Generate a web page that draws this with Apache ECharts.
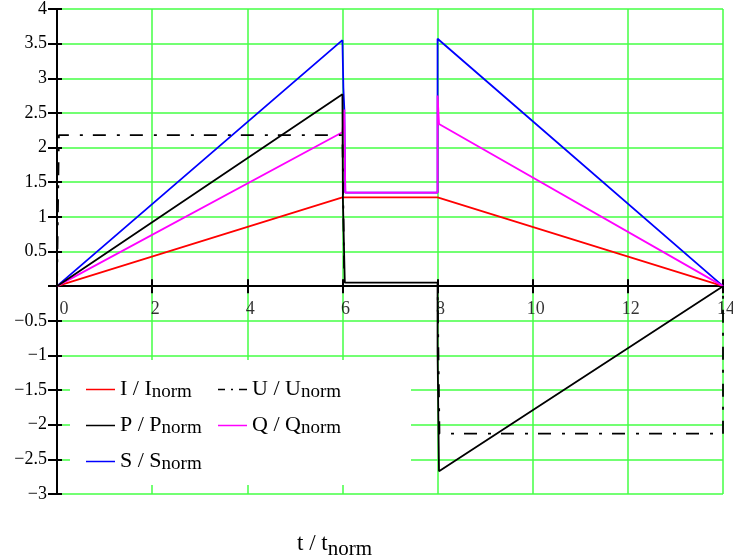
<!DOCTYPE html>
<html>
<head>
<meta charset="utf-8">
<script src="https://cdn.jsdelivr.net/npm/echarts@6/dist/echarts.min.js"></script>
<style>
  html, body { margin: 0; padding: 0; background: #ffffff; }
  #chart { width: 733px; height: 557px; }
</style>
</head>
<body>
<div id="chart"></div>
<script>
// Normalised time axis and value range
const xMin = 0, xMax = 14, xStep = 2;
const yMin = -3, yMax = 4, yStep = 0.5;
// Time tick labels, written along the zero line
const xTickValues = [0, 2, 4, 6, 8, 10, 12, 14];

// Current I / Inorm
const tI = [0, 6, 8, 14];
const vI = [0, 1.28, 1.28, 0];
// Voltage U / Unorm
const tU = [0, 0.04, 6, 6.04, 8, 8.04, 14, 14];
const vU = [0, 2.18, 2.18, 0, 0, -2.13, -2.13, 0];
// Active power P / Pnorm
const tP = [0, 6, 6.01, 6.05, 8, 8, 8.03, 14];
const vP = [0, 2.77, 1.25, 0.05, 0.05, -0.95, -2.67, 0];
// Reactive power Q / Qnorm
const tQ = [0, 6, 6.04, 6.06, 8, 8, 8.03, 14];
const vQ = [0, 2.22, 2.55, 1.35, 1.35, 2.75, 2.34, 0];
// Apparent power S / Snorm
const tS = [0, 6, 6.02, 6.04, 6.06, 8, 8, 14];
const vS = [0, 3.55, 2.86, 2.55, 1.35, 1.35, 3.57, 0];

const FONT = "'Liberation Serif', 'Times New Roman', serif";
const GRID_GREEN = '#44ff44';
const COLORS = { I: '#ff0000', U: '#000000', P: '#000000', Q: '#ff00ff', S: '#0000ff' };
const U_DASH = [13, 11, 3, 10];

// legend key shapes: a plain stroke, and a short dash-dot for U
const KEY_SOLID = 'path://M0 0h29v1.5h-29z';
const KEY_DASHDOT = 'path://M0 0h7v1.5h-7z M13 0h2v1.5h-2z M21 0h8v1.5h-8z';

const pairs = (ts, vs) => ts.map((t, i) => [t, vs[i]]);
const fmtNum = v => (v < 0 ? '\u2212' + Math.abs(v) : String(v));

function lineSeries(name, ts, vs, width, type) {
  const color = COLORS[name];
  return {
    name, type: 'line', data: pairs(ts, vs),
    symbol: 'none', smooth: false,
    lineStyle: { color, width, type: type || 'solid' },
    itemStyle: { color },
    emphasis: { disabled: true },
    animation: false
  };
}

const legendFmt = n => n + ' / ' + n + '{sub|norm}';
function makeLegend(names, left) {
  return {
    data: names.map(n => ({
      name: n,
      icon: n === 'U' ? KEY_DASHDOT : KEY_SOLID,
      itemStyle: { color: COLORS[n], borderWidth: 0 }
    })),
    left, top: 377, orient: 'vertical',
    itemWidth: 29, itemHeight: 1.5, itemGap: 11, padding: 0,
    selectedMode: false, formatter: legendFmt,
    textStyle: {
      color: '#000', fontFamily: FONT, fontSize: 22, lineHeight: 24,
      rich: { sub: { fontFamily: FONT, fontSize: 19, lineHeight: 24, padding: [6, 0, 0, 0], color: '#000' } }
    }
  };
}

const chart = echarts.init(document.getElementById('chart'), null, { renderer: 'canvas' });
chart.setOption({
  animation: false,
  backgroundColor: '#ffffff',
  grid: { left: 57, right: 10, top: 9, bottom: 63, containLabel: false },
  title: {
    text: 't / t{s|norm}', left: 297, top: 527, padding: 0,
    textStyle: {
      fontFamily: FONT, fontSize: 23, fontWeight: 'normal', color: '#000',
      rich: { s: { fontFamily: FONT, fontSize: 21, color: '#000', padding: [12, 0, 0, 0] } }
    }
  },
  xAxis: [{
    type: 'value', min: xMin, max: xMax, interval: xStep, position: 'bottom',
    axisLine: { show: true, onZero: true, onZeroAxisIndex: 0, lineStyle: { color: '#000', width: 2 } },
    axisTick: { show: true, length: 7, lineStyle: { color: '#000', width: 2 } },
    axisLabel: { show: false },
    splitLine: { show: true, lineStyle: { color: GRID_GREEN, width: 1.5 } }
  }, {
    type: 'value', min: xMin, max: xMax, interval: xStep, position: 'top',
    axisLine: { show: false, onZero: true, onZeroAxisIndex: 0 },
    axisTick: { show: true, length: 7, lineStyle: { color: '#000', width: 2 } },
    axisLabel: { show: false },
    splitLine: { show: false }
  }],
  yAxis: [{
    type: 'value', min: yMin, max: yMax, interval: yStep, position: 'left',
    axisLine: { show: true, onZero: true, lineStyle: { color: '#000', width: 2 } },
    axisTick: { show: true, length: 9, lineStyle: { color: '#000', width: 2 } },
    axisLabel: {
      show: true, margin: 10, color: '#000', fontFamily: FONT, fontSize: 18,
      formatter: v => (v === 0 ? '' : fmtNum(v))
    },
    splitLine: { show: true, lineStyle: { color: GRID_GREEN, width: 1.5 } }
  }, {
    type: 'value', min: yMin, max: yMax, interval: yStep, position: 'right',
    axisLine: { show: false, onZero: true, onZeroAxisIndex: 0 },
    axisTick: { show: true, length: 5, lineStyle: { color: '#000', width: 2 } },
    axisLabel: { show: false },
    splitLine: { show: false }
  }],
  legend: [makeLegend(['I', 'P', 'S'], 86), makeLegend(['U', 'Q'], 218)],
  graphic: [{
    type: 'rect', z: 1, silent: true,
    shape: { x: 70, y: 360, width: 341, height: 125 },
    style: { fill: '#ffffff' }
  }],
  series: [
    lineSeries('S', tS, vS, 1.8),
    lineSeries('I', tI, vI, 1.8),
    lineSeries('Q', tQ, vQ, 1.8),
    lineSeries('P', tP, vP, 1.8),
    lineSeries('U', tU, vU, 1.8, U_DASH),
    {
      // time tick labels sitting just under the zero line
      name: 'tLabels', type: 'scatter', silent: true, z: 5,
      data: xTickValues.map(t => [t, 0]),
      symbolSize: 1,
      itemStyle: { color: 'rgba(0,0,0,0)' },
      label: {
        show: true, position: 'bottom', distance: 14, offset: [3, 0],
        color: '#000', fontFamily: FONT, fontSize: 18,
        formatter: p => (p.value[0] === 0 ? '{z|0}' : fmtNum(p.value[0])),
        rich: { z: { fontFamily: FONT, fontSize: 18, color: '#000', padding: [0, 0, 0, 8] } }
      },
      emphasis: { disabled: true }
    }
  ]
});
</script>
</body>
</html>
